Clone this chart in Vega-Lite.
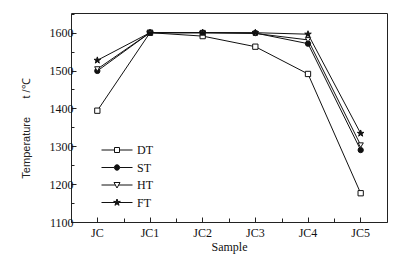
{
  "$schema": "https://vega.github.io/schema/vega-lite/v6.json",
  "width": 316,
  "height": 209,
  "autosize": {"type": "none"},
  "padding": {"left": 71, "top": 13, "right": 17, "bottom": 38},
  "background": "white",
  "config": {
    "view": {"stroke": "#222", "strokeWidth": 1},
    "axis": {
      "labelFont": "Liberation Serif",
      "labelFontSize": 12,
      "labelColor": "#111",
      "titleFont": "Liberation Serif",
      "titleFontSize": 12,
      "titleFontWeight": "normal",
      "titleColor": "#111",
      "tickColor": "#222",
      "domain": false,
      "grid": false
    },
    "legend": {
      "labelFont": "Liberation Serif",
      "labelFontSize": 12,
      "labelColor": "#111"
    }
  },
  "data": {
    "values": [
      {"sample": "JC", "series": "DT", "t": 1394},
      {"sample": "JC1", "series": "DT", "t": 1600},
      {"sample": "JC2", "series": "DT", "t": 1591},
      {"sample": "JC3", "series": "DT", "t": 1563},
      {"sample": "JC4", "series": "DT", "t": 1491},
      {"sample": "JC5", "series": "DT", "t": 1176},
      {"sample": "JC", "series": "ST", "t": 1499},
      {"sample": "JC1", "series": "ST", "t": 1600},
      {"sample": "JC2", "series": "ST", "t": 1600},
      {"sample": "JC3", "series": "ST", "t": 1599},
      {"sample": "JC4", "series": "ST", "t": 1571},
      {"sample": "JC5", "series": "ST", "t": 1290},
      {"sample": "JC", "series": "HT", "t": 1504},
      {"sample": "JC1", "series": "HT", "t": 1600},
      {"sample": "JC2", "series": "HT", "t": 1600},
      {"sample": "JC3", "series": "HT", "t": 1598},
      {"sample": "JC4", "series": "HT", "t": 1581},
      {"sample": "JC5", "series": "HT", "t": 1303},
      {"sample": "JC", "series": "FT", "t": 1527},
      {"sample": "JC1", "series": "FT", "t": 1600},
      {"sample": "JC2", "series": "FT", "t": 1600},
      {"sample": "JC3", "series": "FT", "t": 1600},
      {"sample": "JC4", "series": "FT", "t": 1596},
      {"sample": "JC5", "series": "FT", "t": 1334}
    ]
  },
  "resolve": {
    "axis": {"x": "independent", "y": "independent"},
    "scale": {"shape": "independent", "fill": "independent", "stroke": "independent"}
  },
  "layer": [
    {
      "mark": {"type": "line", "color": "#111", "strokeWidth": 1},
      "encoding": {
        "x": {
          "field": "sample", "type": "nominal",
          "scale": {"type": "band", "paddingInner": 0, "paddingOuter": 0},
          "axis": {"orient": "bottom", "labels": false, "title": null, "tickBand": "extent", "tickSize": -4}
        },
        "y": {
          "field": "t", "type": "quantitative",
          "scale": {"domain": [1100, 1652], "nice": false, "zero": false},
          "axis": {"orient": "left", "labels": false, "title": null, "values": [1150, 1250, 1350, 1450, 1550, 1650], "tickSize": -3}
        },
        "detail": {"field": "series"}
      }
    },
    {
      "mark": {"type": "point", "stroke": "#111", "strokeWidth": 1, "size": 28, "opacity": 1},
      "encoding": {
        "x": {
          "field": "sample", "type": "nominal",
          "axis": {"orient": "bottom", "labelAngle": 0, "title": "Sample", "tickSize": -5, "labelPadding": 10, "titlePadding": 3,
                   "labelFont": "Liberation Serif", "titleFont": "Liberation Serif"}
        },
        "y": {
          "field": "t", "type": "quantitative",
          "axis": {"orient": "left", "values": [1100, 1200, 1300, 1400, 1500, 1600], "format": "d", "tickSize": -5, "labelPadding": 3,
                   "labelFont": "Liberation Serif",
                   "title": "Temperature\u00a0\u00a0\u00a0\u00a0\u00a0\u00a0t /℃", "titleFont": "Liberation Sans", "titleFontSize": 11, "titlePadding": 18, "titleY": 115, "titleColor": "#222"}
        },
        "shape": {
          "field": "series", "type": "nominal",
          "scale": {
            "domain": ["DT", "ST", "HT", "FT"],
            "range": ["square", "circle", "triangle-down", "M0,-1.3L0.29,-0.4L1.24,-0.4L0.47,0.15L0.77,1.05L0,0.5L-0.77,1.05L-0.47,0.15L-1.24,-0.4L-0.29,-0.4Z"]
          },
          "legend": null
        },
        "fill": {
          "field": "series", "type": "nominal",
          "scale": {"domain": ["DT", "ST", "HT", "FT"], "range": ["white", "#111", "white", "#111"]},
          "legend": null
        }
      }
    },
    {
      "transform": [{"filter": "false"}],
      "mark": {"type": "point", "strokeWidth": 1, "size": 4, "opacity": 1},
      "encoding": {
        "shape": {
          "field": "series", "type": "nominal",
          "scale": {
            "domain": ["DT", "ST", "HT", "FT"],
            "range": [
              "M-15.5,0H-2.5M2.5,0H15.5M-2.5,-2.5H2.5V2.5H-2.5Z",
              "M-15.5,0H-2.7M2.7,0H15.5M2.7,0A2.7,2.7 0 1,1 -2.7,0A2.7,2.7 0 1,1 2.7,0Z",
              "M-15.5,0H-1.6M1.6,0H15.5M-3,-2.5L3,-2.5L0,3Z",
              "M-15.5,0H-2M2,0H15.5M0,-3.5L0.79,-1.08L3.33,-1.08L1.27,0.41L2.06,2.83L0,1.34L-2.06,2.83L-1.27,0.41L-3.33,-1.08L-0.79,-1.08Z"
            ]
          },
          "legend": {
            "title": null,
            "orient": "none",
            "legendX": 40,
            "legendY": 131,
            "symbolSize": 4,
            "symbolStrokeWidth": 1,
            "symbolOffset": 0,
            "labelOffset": 14,
            "rowPadding": 5.5
          }
        },
        "fill": {
          "field": "series", "type": "nominal",
          "scale": {"domain": ["DT", "ST", "HT", "FT"], "range": ["white", "#111", "white", "#111"]},
          "legend": {
            "title": null,
            "orient": "none",
            "legendX": 40,
            "legendY": 131,
            "symbolSize": 4,
            "symbolStrokeWidth": 1,
            "symbolOffset": 0,
            "labelOffset": 14,
            "rowPadding": 5.5
          }
        },
        "stroke": {
          "field": "series", "type": "nominal",
          "scale": {"domain": ["DT", "ST", "HT", "FT"], "range": ["#111", "#111", "#111", "#111"]},
          "legend": {
            "title": null,
            "orient": "none",
            "legendX": 40,
            "legendY": 131,
            "symbolSize": 4,
            "symbolStrokeWidth": 1,
            "symbolOffset": 0,
            "labelOffset": 14,
            "rowPadding": 5.5
          }
        }
      }
    }
  ]
}
